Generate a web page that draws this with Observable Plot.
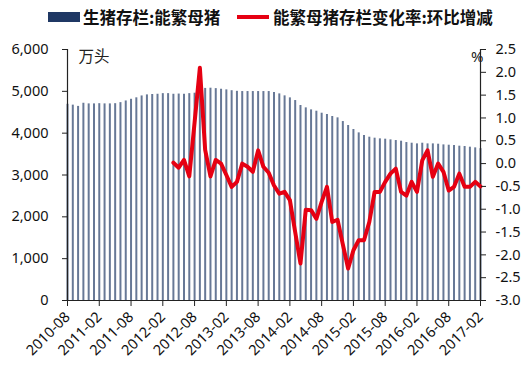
<!DOCTYPE html>
<html><head><meta charset="utf-8">
<script src="https://cdn.jsdelivr.net/npm/d3@7"></script>
<script src="https://cdn.jsdelivr.net/npm/@observablehq/plot@0.6"></script>
<style>
body{margin:0;background:#fff;width:530px;height:370px;overflow:hidden;font-family:"Noto Sans CJK SC",sans-serif;}
#legend{position:relative;height:34px;}
.item{position:absolute;top:6px;font-weight:bold;font-size:16.5px;line-height:22px;color:#111;display:flex;align-items:center;white-space:nowrap;}
.sw-bar{display:inline-block;width:32px;height:10px;background:#1f3864;margin-right:3px;}
.sw-line{display:inline-block;width:32px;height:4px;background:#e60012;margin-right:4px;}
</style></head><body>
<div id="legend">
<div class="item" style="left:48px"><span class="sw-bar"></span>生猪存栏:能繁母猪</div>
<div class="item" style="left:237px"><span class="sw-line"></span>能繁母猪存栏变化率:环比增减</div>
</div>
<div id="chart"></div>
<script>
// Categories: monthly, 2010-08 .. 2017-02
const months = d3.utcMonth.range(new Date(Date.UTC(2010,7,1)), new Date(Date.UTC(2017,2,1))).map(d3.utcFormat("%Y-%m"));

// 生猪存栏:能繁母猪 (万头), one per month from 2010-08
const sowStock = [
  4690, 4670, 4640, 4715, 4700, 4700, 4705, 4700, 4700, 4705,
  4730, 4770, 4810, 4845, 4890, 4915, 4925, 4930, 4945, 4945,
  4930, 4935, 4930, 4945, 4955, 5065, 5070, 5075, 5065, 5050,
  5035, 5015, 5000, 4995, 4995, 4995, 4995, 4995, 4995, 4971,
  4939, 4892, 4844, 4780, 4661, 4605, 4557, 4525, 4477, 4446,
  4398, 4366, 4278, 4183, 4087, 4007, 3944, 3904, 3880, 3864,
  3856, 3840, 3824, 3808, 3776, 3760, 3744, 3760, 3744, 3744,
  3736, 3720, 3712, 3705, 3689, 3681, 3665, 3649, 3630
];

// 能繁母猪存栏变化率:环比增减 (%), starting 2012-04
const changeStart = "2012-04";
const momChange = [
  0.02, -0.09, 0.08, -0.28, 0.9, 2.1, 0.3, -0.28, 0.08, 0.0,
  -0.25, -0.51, -0.40, 0.0, -0.07, -0.18, 0.29, -0.07, -0.2, -0.48,
  -0.66, -0.62, -0.80, -1.5, -2.19, -1.01, -1.02, -1.21, -0.84, -0.51,
  -1.28, -1.23, -1.77, -2.30, -1.90, -1.68, -1.68, -1.28, -0.62, -0.62,
  -0.40, -0.22, -0.11, -0.62, -0.70, -0.40, -0.62, 0.07, 0.29, -0.29,
  0.0, -0.18, -0.59, -0.51, -0.22, -0.51, -0.51, -0.40, -0.50
];

const leftTicks = [0, 1000, 2000, 3000, 4000, 5000, 6000];
const rightTicks = [2.5, 2.0, 1.5, 1.0, 0.5, 0.0, -0.5, -1.0, -1.5, -2.0, -2.5, -3.0];
const xTickLabels = ["2010-08","2011-02","2011-08","2012-02","2012-08","2013-02","2013-08","2014-02","2014-08","2015-02","2015-08","2016-02","2016-08","2017-02"];

const stockMax = 6000, pctMin = -3.0, pctMax = 2.5;
const toLeft = p => (p - pctMin) / (pctMax - pctMin) * stockMax;
const toPct = v => Math.round((v / stockMax * (pctMax - pctMin) + pctMin) * 10) / 10;

const stockRows = sowStock.map((v, i) => ({i, month: months[i], v}));
const off = months.indexOf(changeStart);
const changeRows = momChange.map((p, k) => ({i: off + k, month: months[off + k], p}));
const xTickIdx = xTickLabels.map(m => months.indexOf(m));
const lastIdx = months.length - 1;

const chart = Plot.plot({
  width: 530, height: 336,
  marginTop: 15, marginBottom: 70, marginLeft: 67, marginRight: 50,
  style: {fontFamily: '"Noto Sans", sans-serif', fontSize: "14.5px", color: "#111", background: "#fff"},
  x: {type: "linear", domain: [0, lastIdx]},
  y: {domain: [0, stockMax]},
  marks: [
    Plot.ruleX(stockRows, {x: "i", y1: 0, y2: "v", stroke: "#1f3864", strokeWidth: 2, strokeOpacity: 0.68}),
    Plot.ruleY([0], {stroke: "#222", strokeWidth: 1.2}),
    Plot.ruleX([0, lastIdx], {stroke: "#222", strokeWidth: 1.2}),
    Plot.line(changeRows, {x: "i", y: d => toLeft(d.p), stroke: "#e60012", strokeWidth: 4, strokeLinejoin: "round", strokeLinecap: "round"}),
    Plot.axisY(leftTicks, {anchor: "left", tickSize: 5, tickPadding: 14, tickFormat: d3.format(","), label: null, stroke: "#222"}),
    Plot.axisY(rightTicks.map(toLeft), {anchor: "right", tickSize: 5, tickPadding: 10, tickFormat: d => toPct(d).toFixed(1), label: null, stroke: "#222"}),
    Plot.axisX(xTickIdx, {anchor: "bottom", tickSize: 6, tickPadding: 8, tickRotate: -45, tickFormat: d => months[d], label: null, fontSize: 14.5, stroke: "#222"}),
    Plot.text(["万头"], {frameAnchor: "top-left", dx: 11, dy: 8, lineAnchor: "middle", textAnchor: "start", fontSize: 15.5, fontFamily: '"Noto Sans CJK SC", sans-serif', fill: "#222"}),
    Plot.text(["%"], {frameAnchor: "top-right", dx: 3, dy: 8, lineAnchor: "middle", textAnchor: "end", fontSize: 15, fill: "#222"})
  ]
});
document.getElementById("chart").appendChild(chart);
</script>
</body></html>
